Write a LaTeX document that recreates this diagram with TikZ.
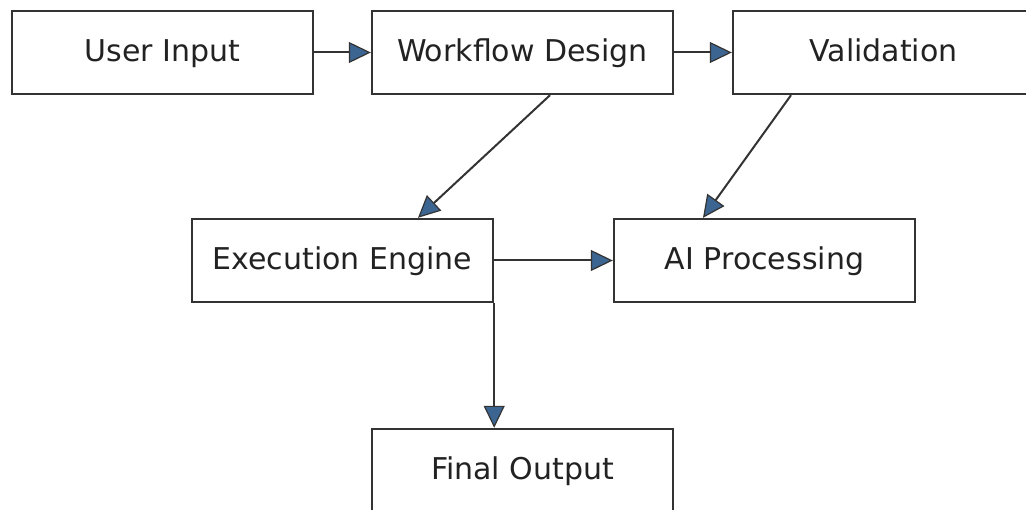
\documentclass[tikz,border=0pt]{standalone}
\usepackage{fontspec}
\setmainfont{DejaVu Sans}
\usetikzlibrary{arrows.meta}
\definecolor{boxline}{HTML}{333333}
\definecolor{txt}{HTML}{222222}
\definecolor{tipblue}{HTML}{3C6592}
\begin{document}
\begin{tikzpicture}[x=1pt,y=-1pt,
  box/.style={draw=boxline, line width=2.4pt, fill=white, minimum width=301pt, minimum height=83pt,
    inner sep=0pt, text height=22pt, text depth=3pt, text=txt, font=\fontsize{30pt}{36pt}\selectfont},
  flow/.style={draw=boxline, line width=2pt,
    -{Triangle[length=22pt,width=21pt,fill=tipblue,line width=1.2pt]}}]
\clip (0,0) rectangle (1026,510);
\fill[white] (0,0) rectangle (1026,510);
\node[box] (ui) at (162.5,52.5) {User Input};
\node[box] (wd) at (522.5,52.5) {Workflow Design};
\node[box] (val) at (883.5,52.5) {Validation};
\node[box] (ex) at (342.5,260.5) {Execution Engine};
\node[box] (ai) at (764.5,260.5) {AI Processing};
\node[box] (fo) at (522.5,470.5) {Final Output};
\draw[flow] (ui.east) -- (wd.west);
\draw[flow] (wd.east) -- (val.west);
\draw[flow] ([xshift=27.5pt]wd.south) -- ([xshift=75.5pt]ex.north);
\draw[flow] ([xshift=-92.5pt]val.south) -- ([xshift=-61.5pt]ai.north);
\draw[flow] (ex.east) -- (ai.west);
\draw[flow] (ex.south east) -- (ex.south east |- fo.north);
\end{tikzpicture}
\end{document}
